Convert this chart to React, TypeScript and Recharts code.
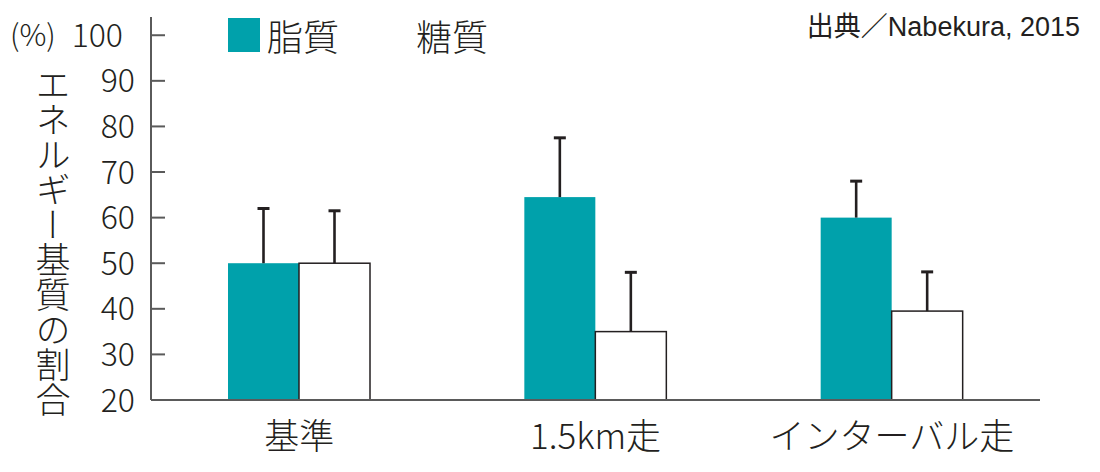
import { Bar, BarChart, XAxis, YAxis } from "recharts";

const categories = ["基準", "1.5km走", "インターバル走"];
const fatValues = [50, 64.5, 60];
const fatErrors = [12, 13, 8];
const carbValues = [50, 35, 39.5];
const carbErrors = [11.5, 13, 8.6];
const yTicks = [20, 30, 40, 50, 60, 70, 80, 90, 100];
const seriesNames = ["脂質", "糖質"];

const TEAL = "#00a1ab";
const INK = "#231f20";
const AXIS = "#5a5a5a";
const JP = '"Noto Sans CJK JP", "Noto Sans", sans-serif';
const W = 300;
const Y_MIN = 20;

const data = categories.map((name, i) => ({
  name,
  fat: fatValues[i],
  fatErr: fatErrors[i],
  carb: carbValues[i],
  carbErr: carbErrors[i],
}));

// bar + one-sided whisker; pixel length taken from the bar's own scale (height / value span)
function WhiskerBar(props: any) {
  const { x, y, width, height, payload, valueKey, errKey, fill, outline } = props;
  const val = payload[valueKey];
  const err = payload[errKey];
  const ppu = height / (val - Y_MIN);
  const top = y - err * ppu;
  const cx = x + width / 2;
  return (
    <g>
      <rect
        x={x}
        y={y}
        width={width}
        height={height}
        fill={fill}
        stroke={outline ? INK : "none"}
        strokeWidth={outline ? 1.5 : 0}
      />
      <line x1={cx} x2={cx} y1={y} y2={top} stroke={INK} strokeWidth={2.6} />
      <line x1={cx - 6} x2={cx + 6} y1={top} y2={top} stroke={INK} strokeWidth={3} />
    </g>
  );
}

function YTick({ x, y, payload }: any) {
  const isTop = payload.value === 100;
  return (
    <g>
      <line x1={x} x2={x + 14} y1={y} y2={y} stroke={AXIS} strokeWidth={2} />
      <text
        x={isTop ? x - 28 : x - 16}
        y={y}
        dy="0.36em"
        textAnchor="end"
        fontFamily={JP}
        fontWeight={W}
        fontSize={32}
        fill={INK}
      >
        {payload.value}
      </text>
      {isTop && (
        <text x={10} y={y} dy="0.36em" fontFamily={JP} fontWeight={W} fontSize={30} fill={INK}>
          (%)
        </text>
      )}
    </g>
  );
}

function XTick({ x, y, payload }: any) {
  return (
    <text
      x={x}
      y={y + 36}
      dy="0.36em"
      textAnchor="middle"
      fontFamily={JP}
      fontWeight={W}
      fontSize={35}
      fill={INK}
    >
      {payload.value}
    </text>
  );
}

function YTitle() {
  return (
    <text
      x={53}
      y={67}
      fontFamily={JP}
      fontWeight={W}
      fontSize={35}
      fill={INK}
      style={{ writingMode: "vertical-rl" as any }}
    >
      エネルギー基質の割合
    </text>
  );
}

export default function App() {
  return (
    <div style={{ position: "absolute", left: 0, top: 0, width: 1100, height: 472, background: "#fff" }}>
      <BarChart
        width={1100}
        height={472}
        data={data}
        margin={{ top: 17, right: 60, bottom: 12, left: 0 }}
        barGap={0}
        barSize={71}
      >
        <XAxis
          dataKey="name"
          axisLine={{ stroke: AXIS, strokeWidth: 2 }}
          tickLine={false}
          tickSize={0}
          tickMargin={0}
          height={60}
          tick={<XTick />}
          interval={0}
        />
        <YAxis
          type="number"
          domain={[Y_MIN, 104]}
          ticks={yTicks}
          allowDataOverflow
          width={151}
          axisLine={{ stroke: AXIS, strokeWidth: 2 }}
          tickLine={false}
          tickSize={0}
          tickMargin={0}
          tick={<YTick />}
          label={<YTitle />}
        />
        <Bar
          dataKey="fat"
          name={seriesNames[0]}
          fill={TEAL}
          isAnimationActive={false}
          shape={(p: any) => <WhiskerBar {...p} valueKey="fat" errKey="fatErr" fill={TEAL} />}
        />
        <Bar
          dataKey="carb"
          name={seriesNames[1]}
          fill="#fff"
          isAnimationActive={false}
          shape={(p: any) => <WhiskerBar {...p} valueKey="carb" errKey="carbErr" fill="#fff" outline />}
        />
      </BarChart>

      {/* legend */}
      <div style={{ position: "absolute", left: 228, top: 18, width: 32, height: 34, background: TEAL }} />
      <div
        style={{ position: "absolute", left: 267, top: 10, fontFamily: JP, fontWeight: W, fontSize: 36, lineHeight: "50px", color: INK }}
      >
        {seriesNames[0]}
      </div>
      <div style={{ position: "absolute", left: 378, top: 18, width: 32, height: 34, background: "#fff" }} />
      <div
        style={{ position: "absolute", left: 416, top: 10, fontFamily: JP, fontWeight: W, fontSize: 36, lineHeight: "50px", color: INK }}
      >
        {seriesNames[1]}
      </div>

      <div
        style={{
          position: "absolute",
          right: 20,
          top: 11,
          fontFamily: '"Liberation Sans", "Noto Sans CJK JP", sans-serif',
          fontSize: 27,
          lineHeight: "32px",
          color: INK,
          whiteSpace: "nowrap",
        }}
      >
        出典／Nabekura, 2015
      </div>
    </div>
  );
}
